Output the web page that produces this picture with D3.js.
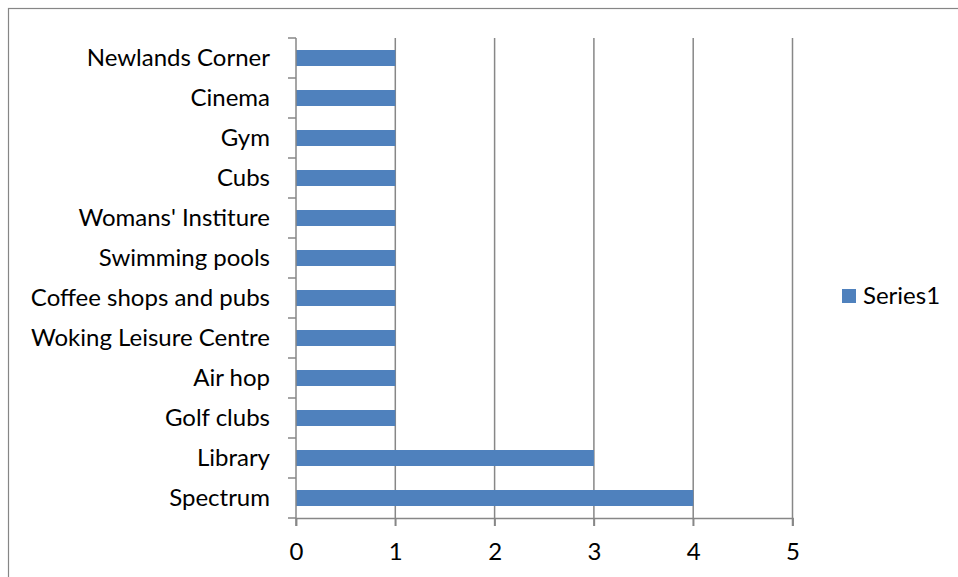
<!DOCTYPE html>
<html>
<head>
<meta charset="utf-8">
<script src="https://cdn.jsdelivr.net/npm/d3@7"></script>
<style>
  body { margin: 0; background: #fff; }
  text { font-family: Lato, "Open Sans", sans-serif; fill: #000; }
</style>
</head>
<body>
<div id="chart"></div>
<script>
// categories listed top to bottom as shown
const categories = ["Newlands Corner", "Cinema", "Gym", "Cubs", "Womans' Institure",
    "Swimming pools", "Coffee shops and pubs", "Woking Leisure Centre", "Air hop",
    "Golf clubs", "Library", "Spectrum"];
const values = [1, 1, 1, 1, 1, 1, 1, 1, 1, 1, 3, 4];
const xTicks = [0, 1, 2, 3, 4, 5];
const seriesName = "Series1";

const width = 958;
const height = 577;
const plot = {left: 296, right: 792.5, top: 38, bottom: 518};
const gridColor = "#878787";
const barColor = "#4F81BD";

const data = categories.map(function(c, i) { return {name: c, value: values[i]}; });

const svg = d3.select("#chart")
    .append("svg")
    .attr("width", width)
    .attr("height", height);

// outer chart border
svg.append("rect")
    .attr("x", 8.5)
    .attr("y", 8.5)
    .attr("width", width + 20)
    .attr("height", height + 20)
    .attr("fill", "none")
    .attr("stroke", "#868686")
    .attr("stroke-width", 1.2);

const xScale = d3.scaleLinear()
    .domain([0, 5])
    .range([plot.left, plot.right]);

const yScale = d3.scaleBand()
    .domain(categories)
    .range([plot.top, plot.bottom])
    .paddingInner(0.6)
    .paddingOuter(0.3);

// vertical gridlines + bottom ticks
svg.selectAll("line.grid")
    .data(xTicks.slice(1))
    .enter()
    .append("line")
        .attr("class", "grid")
        .attr("x1", function(d) { return xScale(d); })
        .attr("x2", function(d) { return xScale(d); })
        .attr("y1", plot.top)
        .attr("y2", plot.bottom + 8)
        .attr("stroke", gridColor)
        .attr("stroke-width", 1.5);

// bars
svg.selectAll("rect.bar")
    .data(data)
    .enter()
    .append("rect")
        .attr("class", "bar")
        .attr("x", xScale(0))
        .attr("y", function(d) { return yScale(d.name); })
        .attr("width", function(d) { return xScale(d.value) - xScale(0); })
        .attr("height", yScale.bandwidth())
        .attr("fill", barColor);

// x axis (bottom)
const xAxis = svg.append("g")
    .attr("transform", `translate(0,${plot.bottom})`)
    .call(d3.axisBottom(xScale).tickValues(xTicks).tickSize(8).tickFormat(d3.format("d")));
xAxis.select(".domain").attr("stroke", gridColor).attr("stroke-width", 1.5);
xAxis.selectAll(".tick line").attr("stroke", gridColor).attr("stroke-width", 1.5);
xAxis.selectAll(".tick text")
    .attr("y", 42)
    .attr("dy", "0")
    .style("font-size", "24px")
    .attr("fill", "#000");

// y axis (left), ticks at band boundaries
const step = (plot.bottom - plot.top) / categories.length;
svg.append("line")
    .attr("x1", plot.left).attr("x2", plot.left)
    .attr("y1", plot.top).attr("y2", plot.bottom + 8)
    .attr("stroke", gridColor).attr("stroke-width", 1.5);

svg.selectAll("line.ytick")
    .data(d3.range(categories.length + 1))
    .enter()
    .append("line")
        .attr("class", "ytick")
        .attr("x1", plot.left - 8)
        .attr("x2", plot.left)
        .attr("y1", function(i) { return plot.top + i * step; })
        .attr("y2", function(i) { return plot.top + i * step; })
        .attr("stroke", gridColor)
        .attr("stroke-width", 1.5);

svg.selectAll("text.ylabel")
    .data(categories)
    .enter()
    .append("text")
        .attr("class", "ylabel")
        .attr("x", plot.left - 26)
        .attr("y", function(d) { return yScale(d) + yScale.bandwidth() / 2; })
        .attr("dy", "0.35em")
        .style("text-anchor", "end")
        .style("font-size", "24px")
        .text(function(d) { return d; });

// legend
svg.append("rect")
    .attr("x", 842)
    .attr("y", 289)
    .attr("width", 14)
    .attr("height", 14)
    .attr("fill", barColor);

svg.append("text")
    .attr("x", 863)
    .attr("y", 296)
    .attr("dy", "0.35em")
    .style("font-size", "24px")
    .text(seriesName);
</script>
</body>
</html>
